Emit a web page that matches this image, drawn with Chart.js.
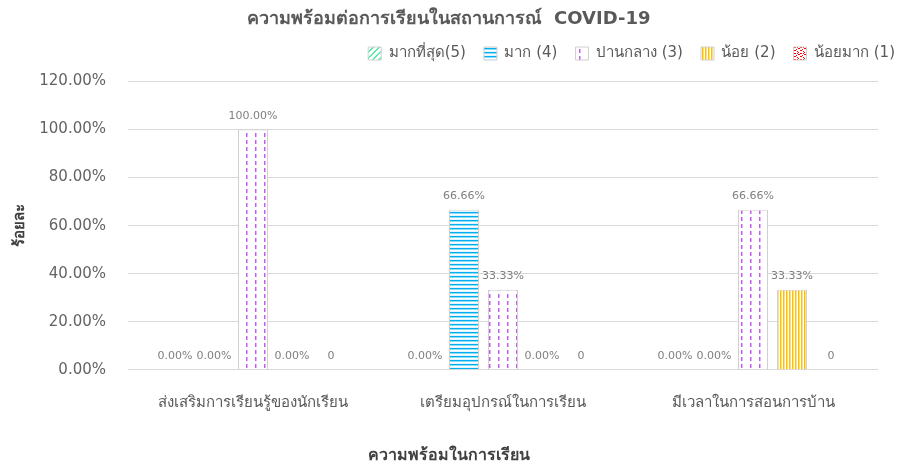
<!DOCTYPE html>
<html>
<head>
<meta charset="utf-8">
<script src="https://cdn.jsdelivr.net/npm/chart.js@4.4.1/dist/chart.umd.min.js"></script>
<style>
  html, body { margin: 0; padding: 0; background: #fff; }
  #wrap { width: 897px; height: 470px; }
</style>
</head>
<body>
<div id="wrap"><canvas id="mycanvas"></canvas></div>
<script>
var categories = ["ส่งเสริมการเรียนรู้ของนักเรียน", "เตรียมอุปกรณ์ในการเรียน", "มีเวลาในการสอนการบ้าน"];
var seriesNames = ["มากที่สุด(5)", "มาก (4)", "ปานกลาง (3)", "น้อย (2)", "น้อยมาก (1)"];
var level5 = [0, 0, 0];
var level4 = [0, 0.6666, 0];
var level3 = [1, 0.3333, 0.6666];
var level2 = [0, 0, 0.3333];
var level1 = [0, 0, 0];
// last series is labelled in general number format
var labelFormats = ["pct", "pct", "pct", "pct", "num"];
var yTickLabels = ["0.00%", "20.00%", "40.00%", "60.00%", "80.00%", "100.00%", "120.00%"];

var FONT = 'Tahoma, "DejaVu Sans", sans-serif';
var canvas = document.getElementById("mycanvas");
var ctx = canvas.getContext("2d");

// small repeating tiles for the bar fills
function makePattern(w, h, draw) {
	var c = document.createElement("canvas");
	c.width = w; c.height = h;
	var g = c.getContext("2d");
	g.fillStyle = "#ffffff";
	g.fillRect(0, 0, w, h);
	draw(g, w, h);
	return ctx.createPattern(c, "repeat");
}

var greenHatch = makePattern(6, 6, function(g, w, h) {
	g.fillStyle = "#55eea8";
	for (var i = 0; i < w; i++) {
		g.fillRect(i, (h - 1 - i + h) % h, 1, 1);
		g.fillRect((i + 1) % w, (h - 1 - i + h) % h, 1, 1);
	}
});

var blueLines = makePattern(4, 4, function(g) {
	g.fillStyle = "#00b0f0"; g.fillRect(0, 0, 4, 1);
	g.fillStyle = "#8ddbf8"; g.fillRect(0, 1, 4, 1);
	g.fillStyle = "#e0f5fd"; g.fillRect(0, 3, 4, 1);
});

var purpleDashes = makePattern(9, 7, function(g) {
	g.fillStyle = "#c45cf4"; g.fillRect(3, 0, 1, 4);
	g.fillStyle = "#e2aefa"; g.fillRect(4, 0, 1, 4);
});

var yellowStripes = makePattern(3, 1, function(g) {
	g.fillStyle = "#ffc000"; g.fillRect(0, 0, 1, 1);
	g.fillStyle = "#ffdf80"; g.fillRect(1, 0, 1, 1);
});

var redDots = makePattern(6, 6, function(g) {
	g.fillStyle = "#ff0000";
	[[0,0],[1,0],[4,1],[2,2],[3,2],[5,3],[0,4],[2,5],[3,5],[5,5]].forEach(function(p) {
		g.fillRect(p[0], p[1], 1, 1);
	});
});

var fills = [greenHatch, blueLines, purpleDashes, yellowStripes, redDots];
var seriesData = [level5, level4, level3, level2, level1];

var datasets = [];
for (var i = 0; i < seriesNames.length; i++) {
	datasets.push({
		label: seriesNames[i],
		data: seriesData[i],
		backgroundColor: fills[i],
		borderColor: "#d0d0d0",
		borderWidth: 1,
		categoryPercentage: 0.78,
		barPercentage: 0.77
	});
}

// value labels above each bar
var barValueLabels = {
	id: "barValueLabels",
	afterDatasetsDraw: function(chart) {
		var c = chart.ctx;
		c.save();
		c.font = "11px " + FONT;
		c.fillStyle = "#7f7f7f";
		c.textAlign = "center";
		c.textBaseline = "alphabetic";
		chart.data.datasets.forEach(function(ds, i) {
			var meta = chart.getDatasetMeta(i);
			meta.data.forEach(function(bar, j) {
				var v = ds.data[j];
				var txt = labelFormats[i] === "pct" ? (v * 100).toFixed(2) + "%" : String(v);
				c.fillText(txt, bar.x, bar.y - 11);
			});
		});
		c.restore();
	}
};

// nudge the legend row out to the right edge
var legendNudge = {
	id: "legendNudge",
	afterLayout: function(chart) {
		chart.legend.left += 16;
		chart.legend.right += 16;
	}
};

var chart = new Chart(ctx, {
	type: "bar",
	data: { labels: categories, datasets: datasets },
	plugins: [barValueLabels, legendNudge],
	options: {
		responsive: true,
		maintainAspectRatio: false,
		animation: false,
		layout: { padding: 0 },
		plugins: {
			tooltip: { enabled: false },
			title: {
				display: true,
				text: "ความพร้อมต่อการเรียนในสถานการณ์  COVID-19",
				color: "#595959",
				font: { family: FONT, size: 18, weight: "bold", lineHeight: 1 },
				padding: { top: 10, bottom: 0 }
			},
			subtitle: {
				display: true,
				position: "bottom",
				text: "ความพร้อมในการเรียน",
				color: "#404040",
				font: { family: FONT, size: 16, weight: "bold" },
				padding: { top: 0, bottom: 5 }
			},
			legend: {
				position: "top",
				align: "end",
				labels: {
					color: "#595959",
					font: { family: FONT, size: 15 },
					boxWidth: 13,
					boxHeight: 13,
					padding: 18
				}
			}
		},
		scales: {
			x: {
				grid: { display: false, drawTicks: false },
				border: { display: false },
				ticks: { color: "#595959", font: { family: FONT, size: 15 }, padding: 24, maxRotation: 0 },
				afterFit: function(s) { s.height = 470 - 369 - 25; }
			},
			// empty strip between legend and plot
			xTop: {
				position: "top",
				display: true,
				grid: { display: false, drawTicks: false },
				border: { display: false },
				ticks: { display: false },
				afterFit: function(s) { s.height = 10.5; }
			},
			y: {
				min: 0,
				max: 1.2,
				ticks: {
					stepSize: 0.2,
					color: "#636363",
					font: { family: FONT, size: 15 },
					padding: 22,
					callback: function(value, index) { return yTickLabels[index]; }
				},
				grid: { color: "#d9d9d9", drawTicks: false },
				border: { display: false },
				title: {
					display: true,
					text: "ร้อยละ",
					color: "#404040",
					font: { family: FONT, size: 15, weight: "bold" },
					padding: { top: 11, bottom: 0 }
				},
				afterFit: function(s) { s.width = 128; }
			},
			// empty strip on the right so the plot ends short of the legend
			yRight: {
				position: "right",
				display: true,
				grid: { display: false, drawTicks: false },
				border: { display: false },
				ticks: { display: false },
				afterFit: function(s) { s.width = 19; }
			}
		}
	}
});
</script>
</body>
</html>
